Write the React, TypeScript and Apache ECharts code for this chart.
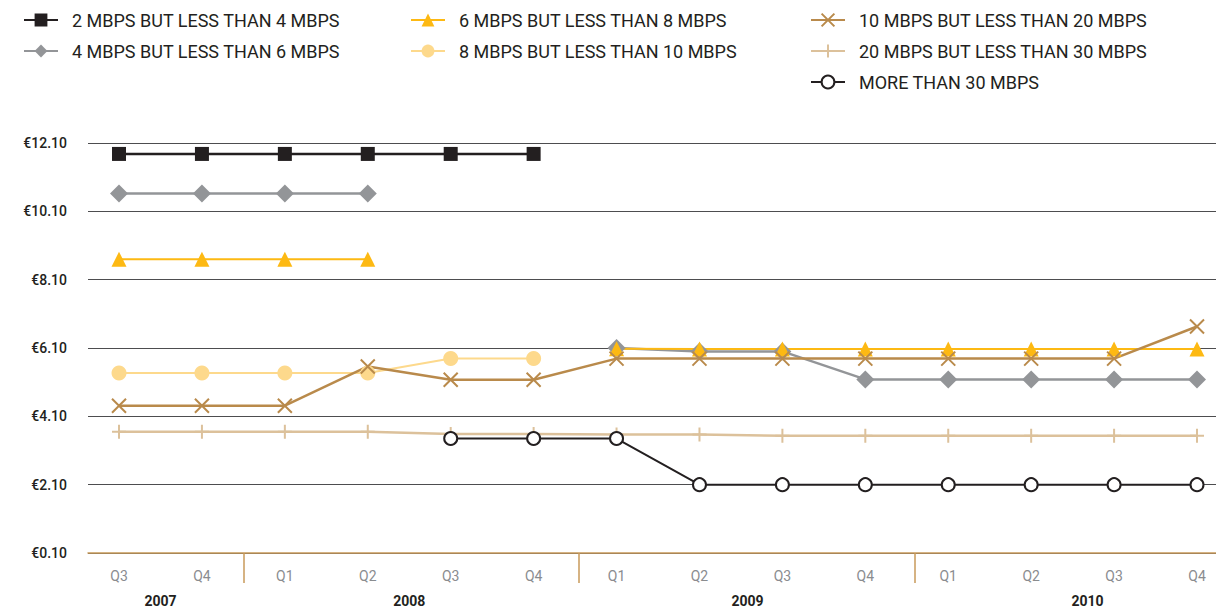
import React, { useEffect, useRef } from "react";
import * as echarts from "echarts";

const quarters = ["Q3", "Q4", "Q1", "Q2", "Q3", "Q4", "Q1", "Q2", "Q3", "Q4", "Q1", "Q2", "Q3", "Q4"];
const years = ["2007", "2008", "2009", "2010"];
const yearPositions = [0.5, 3.5, 7.58, 11.68];
const yearSeparators = [1.5, 5.55, 9.6];

const names = [
  "2 MBPS BUT LESS THAN 4 MBPS",
  "4 MBPS BUT LESS THAN 6 MBPS",
  "6 MBPS BUT LESS THAN 8 MBPS",
  "8 MBPS BUT LESS THAN 10 MBPS",
  "10 MBPS BUT LESS THAN 20 MBPS",
  "20 MBPS BUT LESS THAN 30 MBPS",
  "MORE THAN 30 MBPS",
];

const s2to4 = [11.78, 11.78, 11.78, 11.78, 11.78, 11.78, null, null, null, null, null, null, null, null];
const s4to6 = [10.62, 10.62, 10.62, 10.62, null, null, 6.1, 6.0, 6.0, 5.18, 5.18, 5.18, 5.18, 5.18];
const s6to8 = [8.7, 8.7, 8.7, 8.7, null, null, 6.08, 6.07, 6.07, 6.07, 6.07, 6.07, 6.07, 6.07];
const s8to10 = [5.37, 5.37, 5.37, 5.37, 5.79, 5.79, null, null, null, null, null, null, null, null];
const s10to20 = [4.41, 4.41, 4.41, 5.56, 5.17, 5.17, 5.79, 5.79, 5.79, 5.79, 5.79, 5.79, 5.79, 6.73];
const s20to30 = [3.65, 3.65, 3.65, 3.65, 3.58, 3.58, 3.57, 3.57, 3.53, 3.53, 3.53, 3.53, 3.53, 3.53];
const sOver30 = [null, null, null, null, 3.45, 3.45, 3.45, 2.1, 2.1, 2.1, 2.1, 2.1, 2.1, 2.1];

const yTicks = { min: 0.1, max: 12.1, interval: 2 };

const FONT = "Roboto";

export default function App() {
  const ref = useRef<HTMLDivElement>(null);
  useEffect(() => {
    if (!ref.current) return;
    const chart = echarts.init(ref.current, null, { renderer: "svg" });
    const toPts = (arr: (number | null)[]) => arr.map((v, i) => [i, v]);
    const xMin = -0.374;
    const xMax = 13.229;
    const legendText = {
      fontFamily: FONT,
      fontSize: 18,
      color: "#231f20",
      lineHeight: 20,
      padding: [0, 0, 0, 9],
    };
    const legendCommon = {
      orient: "vertical",
      top: 5,
      itemWidth: 34,
      itemHeight: 16,
      itemGap: 11,
      textStyle: legendText,
      selectedMode: false,
    };
    const mk = (name: string, data: (number | null)[], color: string, symbol: string, size: number, extra: any = {}) => ({
      name,
      type: "line",
      data: toPts(data),
      symbol,
      symbolSize: size,
      lineStyle: { color, width: 2 },
      itemStyle: { color },
      connectNulls: false,
      ...extra,
    });
    chart.setOption({
      animation: false,
      grid: { left: 88, right: 0, top: 143, bottom: 56 },
      legend: [
        { ...legendCommon, left: 18, data: [names[0], names[1]] },
        { ...legendCommon, left: 405, data: [names[2], names[3]] },
        { ...legendCommon, left: 805, data: [names[4], names[5], names[6]] },
      ],
      xAxis: [
        {
          type: "value",
          min: xMin,
          max: xMax,
          position: "bottom",
          splitLine: { show: false },
          axisLine: { show: true, lineStyle: { color: "#c89a5a", width: 1.5 } },
          axisTick: {
            show: true,
            customValues: yearSeparators,
            length: 30,
            inside: false,
            lineStyle: { color: "#c89a5a", width: 1.5 },
          },
          axisLabel: {
            customValues: quarters.map((_, i) => i),
            formatter: (v: number) => quarters[Math.round(v)] ?? "",
            color: "#8a8c8f",
            fontFamily: FONT,
            fontSize: 14,
            margin: 16,
          },
        },
        {
          type: "value",
          min: xMin,
          max: xMax,
          position: "bottom",
          splitLine: { show: false },
          axisLine: { show: false },
          axisTick: { show: false },
          axisLabel: {
            customValues: yearPositions,
            formatter: (v: number) => {
              const idx = yearPositions.findIndex((p) => Math.abs(p - v) < 0.01);
              return idx >= 0 ? years[idx] : "";
            },
            color: "#231f20",
            fontFamily: FONT,
            fontWeight: "bold",
            fontSize: 14,
            margin: 41,
          },
        },
      ],
      yAxis: {
        type: "value",
        min: yTicks.min,
        max: yTicks.max,
        interval: yTicks.interval,
        axisLine: { show: false },
        axisTick: { show: false },
        splitLine: { show: true, lineStyle: { color: "#4d4d4f", width: 1 } },
        axisLabel: {
          formatter: (v: number) => "€" + v.toFixed(2),
          color: "#231f20",
          fontFamily: FONT,
          fontSize: 14,
          fontWeight: 500,
          margin: 21,
        },
      },
      series: [
        mk(names[0], s2to4, "#231f20", "rect", 14, { lineStyle: { color: "#231f20", width: 2.5 } }),
        mk(names[1], s4to6, "#939598", "diamond", 18, { lineStyle: { color: "#939598", width: 2.5 } }),
        mk(names[2], s6to8, "#fdb913", "triangle", 15, { lineStyle: { color: "#fdb913", width: 2 } }),
        mk(names[3], s8to10, "#fdd98c", "circle", 15, { lineStyle: { color: "#fdd98c", width: 2 } }),
        mk(names[4], s10to20, "#b98a4b", "path://M0,0L10,10M10,0L0,10", 14, {
          itemStyle: { color: "#b98a4b", borderColor: "#b98a4b", borderWidth: 2 },
          lineStyle: { color: "#b98a4b", width: 2.5 },
        }),
        mk(names[5], s20to30, "#dcc19b", "path://M5,0L5,10M0,5L10,5", 14, {
          itemStyle: { color: "#dcc19b", borderColor: "#dcc19b", borderWidth: 2 },
          lineStyle: { color: "#dcc19b", width: 2.5 },
        }),
        mk(names[6], sOver30, "#231f20", "circle", 13, {
          itemStyle: { color: "#ffffff", borderColor: "#231f20", borderWidth: 2 },
          lineStyle: { color: "#231f20", width: 2 },
        }),
      ],
    });
    return () => chart.dispose();
  }, []);
  return <div ref={ref} style={{ width: 1216, height: 609, position: "absolute", left: 0, top: 0, background: "#fff" }} />;
}
